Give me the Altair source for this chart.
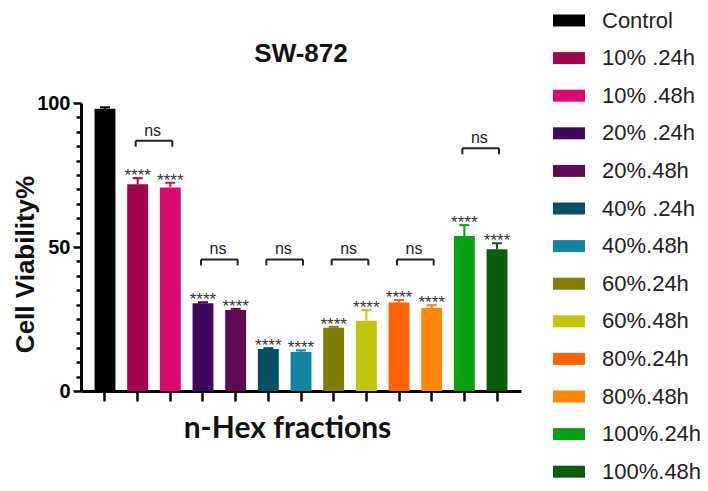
import altair as alt
import pandas as pd

categories = ["Control", "10% .24h", "10% .48h", "20% .24h", "20%.48h", "40% .24h",
              "40%.48h", "60%.24h", "60%.48h", "80%.24h", "80%.48h", "100%.24h", "100%.48h"]
means = [98.0, 71.8, 70.7, 30.5, 28.1, 14.6, 13.6, 22.0, 24.4, 30.7, 28.8, 53.8, 49.2]
errors = [0.5, 2.1, 1.6, 0.3, 0.4, 0.3, 0.5, 0.3, 3.7, 0.9, 1.0, 3.8, 2.1]
stars = ["", "****", "****", "****", "****", "****", "****", "****", "****", "****", "****", "****", "****"]
colors = ["#000000", "#a1064f", "#db0a6e", "#3f0a5c", "#5e0a55", "#07506a", "#1283a0",
          "#7f7f05", "#c4c40a", "#fd6203", "#ff8505", "#0a9f12", "#075f0b"]

pair_left = ["10% .24h", "20% .24h", "40% .24h", "60%.24h", "80%.24h", "100%.24h"]
pair_right = ["10% .48h", "20%.48h", "40%.48h", "60%.48h", "80%.48h", "100%.48h"]
bracket_levels = [86.9, 45.7, 45.7, 45.7, 45.7, 84.3]
bracket_labels = ["ns", "ns", "ns", "ns", "ns", "ns"]
leg_depth = 2.1

df = pd.DataFrame({"group": categories, "mean": means, "err": errors, "star": stars})
df["top"] = df["mean"] + df["err"]
br = pd.DataFrame({"left": pair_left, "right": pair_right, "level": bracket_levels,
                   "label": bracket_labels})
br["low"] = br["level"] - leg_depth

xscale = alt.Scale(domain=categories, paddingInner=0.36, paddingOuter=0.414)
xaxis = alt.Axis(labels=False, tickSize=10, tickWidth=2.5, tickColor="black",
                 domainWidth=3, domainColor="black", title="n-Hex fractions",
                 titleFont="Lato", titleFontSize=30, titleFontWeight="bold", titleColor="#111",
                 titleX=206, titleY=46, titleBaseline="alphabetic", titleAlign="center")
yscale = alt.Scale(domain=[0, 100], nice=False)
yaxis = alt.Axis(values=list(range(0, 101, 5)),
                 labelExpr="datum.value % 50 === 0 ? datum.label : ''",
                 tickSize={"condition": {"test": "datum.value % 50 === 0", "value": 8}, "value": 5},
                 tickWidth=2.5, tickColor="black", domainWidth=3, domainColor="black",
                 labelFont="Liberation Sans", labelFontSize=20, labelFontWeight="bold",
                 labelColor="black", labelPadding=3, grid=False,
                 title="Cell Viability%", titleFont="Liberation Sans", titleFontSize=26,
                 titleFontWeight="bold", titleColor="#111", titleAngle=270,
                 titleX=-48, titleY=161, titleBaseline="alphabetic", titleAlign="center")


def X(field):
    return alt.X(field, type="nominal", scale=xscale, axis=xaxis)


def Y(field):
    return alt.Y(field, type="quantitative", scale=yscale, axis=yaxis)


legend = alt.Legend(title=None, orient="none", legendX=472, legendY=-98.5,
                    symbolType="M-1,-0.375H1V0.375H-1Z", symbolSize=1024,
                    symbolStrokeWidth=0, labelFont="Liberation Sans", labelFontSize=22,
                    labelColor="#222", labelOffset=17, rowPadding=10.6, labelLimit=300,
                    padding=0)

base = alt.Chart(df)
bars = base.mark_bar().encode(
    x=X("group"), y=Y("mean"),
    color=alt.Color("group:N", scale=alt.Scale(domain=categories, range=colors), legend=legend),
)
stroke = alt.Stroke("group:N", scale=alt.Scale(domain=categories, range=colors), legend=None)
err_line = base.mark_rule(strokeWidth=2).encode(
    x=X("group"), y=Y("mean"), y2="top", stroke=stroke)
err_cap = base.mark_rule(strokeWidth=2, xOffset=-5, x2Offset=5).encode(
    x=X("group"), x2="group", y=Y("top"), stroke=stroke)
star_txt = base.mark_text(font="Liberation Sans", fontSize=17, color="#333",
                          baseline="alphabetic", dy=3).encode(
    x=X("group"), y=Y("top"), text="star:N")

bbase = alt.Chart(br)
bh = bbase.mark_rule(strokeWidth=2, color="#222", xOffset=-2, x2Offset=2).encode(
    x=X("left"), x2="right", y=Y("level"))
bl = bbase.mark_rule(strokeWidth=2, color="#222", xOffset=-2).encode(
    x=X("left"), y=Y("level"), y2="low")
brr = bbase.mark_rule(strokeWidth=2, color="#222", xOffset=2).encode(
    x=X("right"), y=Y("level"), y2="low")
ns_txt = bbase.mark_text(font="Liberation Sans", fontSize=16, color="#222",
                         baseline="middle", dx=15, dy=-10).encode(
    x=X("left"), y=Y("level"), text="label:N")

chart = alt.layer(bars, err_line, err_cap, star_txt, bh, bl, brr, ns_txt).properties(
    width=440, height=288,
    title=alt.TitleParams("SW-872", font="Liberation Sans", fontSize=26, fontWeight="bold",
                          color="#111", anchor="middle", frame="group", offset=0,
                          baseline="alphabetic", dy=83),
    autosize=alt.AutoSizeParams(type="none"),
    padding={"left": 73, "top": 95, "right": 179, "bottom": 92},
    background="white",
).configure_view(stroke=None)

chart.save("out.html", embed_options={"renderer": "svg", "actions": False})
